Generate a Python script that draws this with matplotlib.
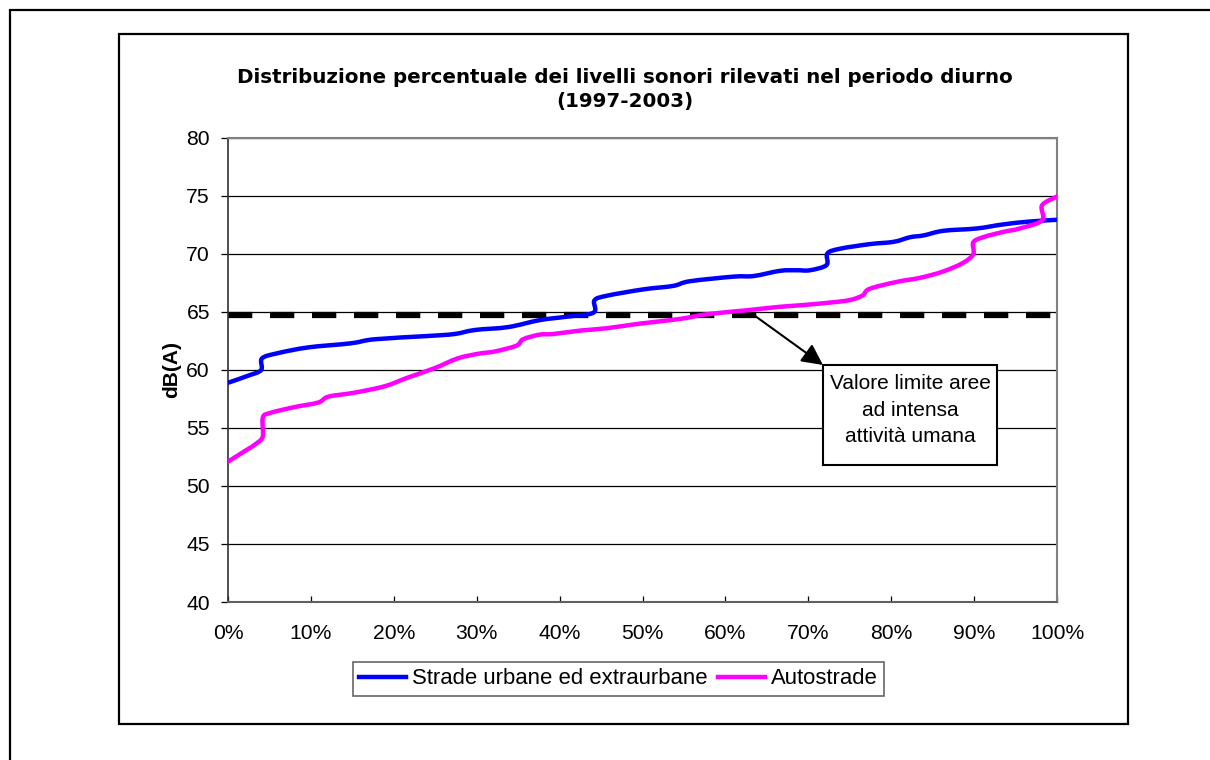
import numpy as np
import matplotlib
matplotlib.use("Agg")
import matplotlib.pyplot as plt
from matplotlib.path import Path
from matplotlib.patches import PathPatch, Rectangle
from matplotlib.lines import Line2D

plt.rcParams['font.family'] = ['Liberation Sans', 'DejaVu Sans']

# Cumulative share of measurement sites (%) vs daytime noise level dB(A)
urbane_pct = [0, 2.4, 4.0, 4.1, 6.0, 9.7, 14.8, 17.7, 24.1, 27.3, 29.8, 33.8,
              37.6, 40.9, 44.1, 44.2, 45.7, 50.1, 53.7, 55.7, 61.0, 63.4, 66.6,
              68.6, 70.2, 72.2, 72.3, 73.8, 77.4, 80.3, 82.3, 83.9, 86.3, 90.3,
              93.5, 96.7, 100]
urbane_db = [58.9, 59.5, 60.0, 61.0, 61.45, 61.95, 62.3, 62.65, 62.93, 63.1,
             63.45, 63.7, 64.3, 64.6, 64.95, 66.0, 66.4, 66.95, 67.25, 67.65,
             68.05, 68.1, 68.55, 68.6, 68.6, 69.05, 70.05, 70.45, 70.85, 71.05,
             71.45, 71.6, 72.0, 72.2, 72.55, 72.8, 72.95]

autostrade_pct = [0, 2.0, 3.5, 4.2, 4.2, 5.1, 8.0, 10.9, 12.1, 15.3, 18.9,
                  21.7, 24.9, 27.7, 30.2, 32.2, 34.8, 35.6, 37.6, 39.2, 42.5,
                  45.7, 49.7, 54.5, 57.7, 62.6, 66.6, 69.4, 73.8, 75.4, 76.6,
                  77.4, 80.7, 83.5, 86.3, 88.7, 89.9, 89.9, 91.1, 93.5, 95.5,
                  98.2, 98.2, 100]
autostrade_db = [52.1, 53.0, 53.7, 54.3, 55.9, 56.3, 56.8, 57.2, 57.7, 58.05,
                 58.6, 59.35, 60.15, 61.0, 61.4, 61.6, 62.1, 62.65, 63.05,
                 63.1, 63.4, 63.6, 64.0, 64.4, 64.8, 65.15, 65.45, 65.6, 65.9,
                 66.1, 66.45, 67.0, 67.6, 67.95, 68.5, 69.25, 70.0, 71.0,
                 71.45, 71.9, 72.2, 72.9, 74.2, 74.95]

limit_db = 64.7
series_names = ["Strade urbane ed extraurbane", "Autostrade"]
series_colors = ["#0000FF", "#FF00FF"]
x_ticks = [0, 10, 20, 30, 40, 50, 60, 70, 80, 90, 100]
x_ticklabels = [f"{t}%" for t in x_ticks]
y_ticks = [40, 45, 50, 55, 60, 65, 70, 75, 80]
title = ("Distribuzione percentuale dei livelli sonori rilevati nel periodo diurno\n"
         "(1997-2003)")
callout = "Valore limite aree\nad intensa\nattività umana"


def smooth_path(xs, ys):
    """Catmull-Rom spline through the points, as cubic Bezier segments."""
    P = np.column_stack([xs, ys]).astype(float)
    n = len(P)
    verts = [P[0]]
    codes = [Path.MOVETO]
    for i in range(n - 1):
        p0 = P[i - 1] if i > 0 else P[i]
        p1, p2 = P[i], P[i + 1]
        p3 = P[i + 2] if i + 2 < n else P[i + 1]
        verts += [p1 + (p2 - p0) / 6, p2 - (p3 - p1) / 6, p2]
        codes += [Path.CURVE4] * 3
    return Path(verts, codes)


W, H = 1210, 760
fig = plt.figure(figsize=(W / 100, H / 100), dpi=100)

# page and chart frames
fig.patches.append(Rectangle((10 / W, -0.1), 1.2, (H - 10) / H + 0.1,
                             transform=fig.transFigure, fill=False,
                             edgecolor="black", lw=1.6))
fig.patches.append(Rectangle((119 / W, 1 - 724 / H), (1128 - 119) / W,
                             (724 - 34) / H, transform=fig.transFigure,
                             fill=False, edgecolor="black", lw=1.6))

ax = fig.add_axes([228 / W, 1 - 602 / H, (1057 - 228) / W, (602 - 138) / H])
ax.set_xlim(0, 100)
ax.set_ylim(40, 80)

ax.set_yticks(y_ticks)
ax.set_yticklabels([str(v) for v in y_ticks])
ax.set_xticks(x_ticks)
ax.set_xticklabels(x_ticklabels)
ax.yaxis.grid(True, color="black", lw=0.9)
ax.set_axisbelow(True)
ax.tick_params(axis="y", direction="out", length=5, width=0.9, pad=8,
               labelsize=15.2, colors="black")
ax.tick_params(axis="x", direction="in", length=4, width=0.9, pad=16,
               labelsize=15.2, colors="black")
for side in ("top", "right"):
    ax.spines[side].set_color("#808080")
    ax.spines[side].set_linewidth(1.5)
ax.spines["left"].set_color("#303030")
ax.spines["bottom"].set_color("#606060")
ax.spines["left"].set_linewidth(1.2)
ax.spines["bottom"].set_linewidth(1.5)

# limit line
ax.plot([0, 100], [limit_db, limit_db], color="black", lw=4.5,
        dashes=(24.3 / 6.25, 17.7 / 6.25), solid_capstyle="butt",
        dash_capstyle="butt", zorder=2)

for xs, ys, c in [(urbane_pct, urbane_db, series_colors[0]),
                  (autostrade_pct, autostrade_db, series_colors[1])]:
    ax.add_patch(PathPatch(smooth_path(xs, ys), fill=False, edgecolor=c,
                           lw=3.2, capstyle="round", joinstyle="round",
                           zorder=3))

ax.set_ylabel("dB(A)", fontsize=15, fontweight="bold", labelpad=4)

# callout box with arrow from the limit line
box_l, box_r, box_t, box_b = 823, 997, 365, 465
fig.patches.append(Rectangle((box_l / W, 1 - box_b / H), (box_r - box_l) / W,
                             (box_b - box_t) / H, transform=fig.transFigure,
                             fc="white", ec="black", lw=1.5, zorder=5))
fig.text((box_l + box_r) / 2 / W, 1 - 374 / H, callout, ha="center",
         va="top", fontsize=15, linespacing=1.5, zorder=6)
ax.annotate("", xy=(box_l / W, 1 - box_t / H), xycoords="figure fraction",
            xytext=(63.5, limit_db), textcoords="data",
            arrowprops=dict(arrowstyle="-|>", color="black", lw=1.5,
                            mutation_scale=32, shrinkA=0, shrinkB=0),
            zorder=5)

fig.text(625 / W, 1 - 89.5 / H, title, ha="center", va="center",
         fontsize=14.3, fontweight="bold", linespacing=1.38,
         family="DejaVu Sans")

handles = [Line2D([], [], color=c, lw=3.2) for c in series_colors]
leg = fig.legend(handles, series_names, loc="center",
                 bbox_to_anchor=(618.5 / W, 1 - 679 / H), ncol=2,
                 fontsize=15.9, frameon=True, fancybox=False,
                 handlelength=2.1, handletextpad=0.27, columnspacing=0.5,
                 borderpad=0.3)
leg.get_frame().set_edgecolor("#404040")
leg.get_frame().set_linewidth(1.2)

fig.savefig("out.png", dpi=100)
